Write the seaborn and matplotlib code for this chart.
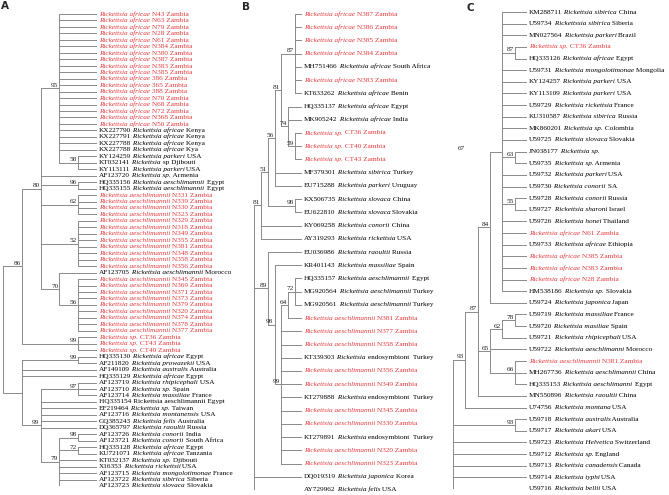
import pandas as pd
import seaborn as sns
import matplotlib.pyplot as plt

sns.set_theme(style="white")
plt.rcParams['font.family'] = ['Liberation Serif', 'DejaVu Serif']

RED = "#e5383b"
LINE = "#8a8a8a"
FS = 5.2
W, H = 669, 495


def zambia(species, ids):
    return [f"*Rickettsia {species}* {i} Zambia" for i in ids]


# ---------------- panel A ----------------
labels_a = (
    zambia("africae", ["N43", "N63", "N79", "N28", "N61", "N384", "N380", "N387", "N383",
                       "N385", "386", "365", "388", "N70", "N68", "N72", "N368", "N50"])
    + ["KX227790 *Rickettsia africae* Kenya",
       "KX227791 *Rickettsia africae* Kenya",
       "KX227788 *Rickettsia africae* Kenya",
       "KX227788 *Rickettsia africae* Kya",
       "KY124259 *Rickettsia parkeri* USA",
       "KT032141 *Rickettsia* sp Djibouti",
       "KY113111 *Rickettsia parkeri* USA",
       "AF123720 *Rickettsia sp.* Armenia",
       "HQ335156 *Rickettsia aeschlimannii* Egypt",
       "HQ335155 *Rickettsia aeschlimannii* Egypt"]
    + zambia("aeschlimannii", ["N331", "N339", "N330", "N323", "N329", "N318", "N349",
                               "N355", "N381", "N348", "N358", "N356"])
    + ["AF123705 *Rickettsia aeschlimannii* Morocco"]
    + zambia("aeschlimannii", ["N345", "N369", "N371", "N373", "N379", "N320", "N374",
                               "N378", "N377"])
    + zambia("sp.", ["CT36", "CT43", "CT40"])
    + ["HQ335130 *Rickettsia africae* Egypt",
       "AF211820 *Rickettsia prowazekii* USA",
       "AF149109 *Rickettsia australis* Australia",
       "HQ335129 *Rickettsia africae* Egypt",
       "AF123719 *Rickettsia rhipicephali* USA",
       "AF123710 *Rickettsia sp.* Spain",
       "AF123714 *Rickettsia massiliae* France",
       "HQ335154 Rickettsia aeschlimannii Egypt",
       "EF219464 *Rickettsia sp.* Taiwan",
       "AF123716 *Rickettsia montanensis* USA",
       "GQ385243 *Rickettsia felis* Australia",
       "DQ365797 *Rickettsia raoultii* Russia",
       "AF123726 *Rickettsia conorii* India",
       "AF123721 *Rickettsia conorii* South Africa",
       "HQ335128 *Rickettsia africae* Egypt",
       "KU721071 *Rickettsia africae* Tanzania",
       "KT032137 *Rickettsia sp.* Djibouti",
       "X16353 *Rickettsia rickettsii* USA",
       "AF123715 *Rickettsia mongolotimonae* France",
       "AF123722 *Rickettsia sibirica* Siberia",
       "AF123723 *Rickettsia slovaca* Slovakia"]
)

# node = (depth, bootstrap, children); leaves are row indices
tree_a = (0, None, [
    (1, 86, [
        (2, 80, [
            (3, 95, list(range(0, 22)) + [(4, 58, [22, 23, 24])]),
            25,
            (4, 96, [26, 27]),
            (4, 62, [28, 29, 30, 31]),
            (4, 52, list(range(32, 40))),
            (3, 70, [40, (4, 56, list(range(41, 50)))]),
        ]),
        (4, 99, [50, 51, 52]),
    ]),
    (1, None, [
        (4, 99, [53, 54]),
        55, 56,
        (2, 99, [
            (4, 97, [57, 58, 59]),
            60, 61, 62, 63, 64,
            (3, 79, [(4, 98, [65, 66]), (4, 72, [67, 68]), 69, 70, 71, 72, 73]),
        ]),
    ]),
])

# ---------------- panel B ----------------
labels_b = (
    zambia("africae", ["N387", "N386", "N385", "N384"])
    + ["MH751466 *Rickettsia africae* South Africa"]
    + zambia("africae", ["N383"])
    + ["KT633262 *Rickettsia africae* Benin",
       "HQ335137 *Rickettsia africae* Egypt",
       "MK905242 *Rickettsia africae* India"]
    + zambia("sp.", ["CT36", "CT40", "CT43"])
    + ["MF379301 *Rickettsia sibirica*  Turkey",
       "EU715288 *Rickettsia parkeri* Uruguay",
       "KX506735 *Rickettsia slovaca* China",
       "EU622810 *Rickettsia slovaca* Slovakia",
       "KY069258 *Rickettsia conorii* China",
       "AY319293 *Rickettsia rickettsia* USA",
       "EU036986 *Rickettsia raoultii* Russia",
       "KR401143 *Rickettsia massiliae* Spain",
       "HQ335157 *Rickettsia aeschlimannii* Egypt",
       "MG920564 *Rickettsia aeschlimannii* Turkey",
       "MG920561 *Rickettsia aeschlimannii* Turkey"]
    + zambia("aeschlimannii", ["N381", "N377", "N358"])
    + ["KT339303 *Rickettsia* endosymbiont  Turkey"]
    + zambia("aeschlimannii", ["N356", "N349"])
    + ["KT279888 *Rickettsia* endosymbiont  Turkey"]
    + zambia("aeschlimannii", ["N345", "N330"])
    + ["KT279891 *Rickettsia* endosymbiont  Turkey"]
    + zambia("aeschlimannii", ["N320", "N323"])
    + ["DQ019319 *Rickettsia japonica* Korea",
       "AY729962 *Rickettsia felis* USA"]
)

tree_b = (0, None, [
    (1, 81, [
        (2, 51, [
            (3, 56, [
                (4, 81, [
                    (6, 87, [0, 1, 2, 3, 4, 5, 6]),
                    (5, 74, [7, 8, (6, 59, [9, 10, 11])]),
                ]),
                12, 13,
            ]),
            (6, 98, [14, 15]),
        ]),
        16, 17,
    ]),
    (2, 89, [
        18,
        (3, 98, [
            19,
            (4, 99, [(5, 64, [(6, 72, [20, 21, 22]), 23])] + list(range(24, 35))),
        ]),
    ]),
    35, 36,
])

# ---------------- panel C ----------------
labels_c = (
    ["KM288711 *Rickettsia sibirica* China",
     "U59734 *Rickettssia sibirica* Siberia",
     "MN027564 *Rickettsia parkeri* Brazil"]
    + zambia("sp.", ["CT36"])
    + ["HQ335126 *Rickettsia africae* Egypt",
       "U59731 *Rickettsia mongolotimonae* Mongolia",
       "KY124257 *Rickettsia parkeri* USA",
       "KY113109 *Rickettsia parkeri* USA",
       "U59729 *Rickettsia rickettsia* France",
       "KU310587 *Rickettsia sibirica* Russia",
       "MK860201 *Rickettsia sp.* Colombia",
       "U59725 *Rickettsia slovaca* Slovakia",
       "JN038177 *Rickettsia sp.*",
       "U59735 *Rickettsia sp.* Armenia",
       "U59732 *Rickettsia parkeri* USA",
       "U59730 *Rickettsia conorii* SA",
       "U59728 *Rickettsia conorii* Russia",
       "U59727 *Rickettsia sharoni* Israel",
       "U59726 *Rickettsia honei* Thailand"]
    + zambia("africae", ["N61"])
    + ["U59733 *Rickettsia africae* Ethiopia"]
    + zambia("africae", ["N385", "N383", "N28"])
    + ["HM538186 *Rickettsia sp.* Slovakia",
       "U59724 *Rickettsia japonica* Japan",
       "U59719 *Rickettsia massiliae* France",
       "U59720 *Rickettsia masiliae* Spain",
       "U59721 *Rickettsia rhipicephali* USA",
       "U59722 *Rickettsia aeschlimanni* Morocco"]
    + zambia("aeschlimannii", ["N381"])
    + ["MH267736 *Rickettsia aeschlimannii* China",
       "HQ335153 *Rickettsia aeschlimanni* Egypt",
       "MN550896 *Rickettsia raoultii* China",
       "U74756 *Rickettsia montana* USA",
       "U59718 *Rickettsia australis* Australia",
       "U59717 *Rickettsia akari* USA",
       "U59723 *Rickettsia Helvetica* Switzerland",
       "U59712 *Rickettsia sp.* England",
       "U59713 *Rickettsia canadensis* Canada",
       "U59714 *Rickettsia typhi* USA",
       "U59716 *Rickettsia bellii* USA"]
)

tree_c = (0, None, [
    (1, 93, [
        (2, 87, [
            (3, 84, [
                (4, 67, [0, 1, 2, (5, 87, [3, 4]), 5, 6, 7, 8, 9, 10, 11,
                         (5, 63, [12, 13]), 14, 15, (5, 55, [16, 17]),
                         18, 19, 20, 21, 22, 23, 24]),
                25,
            ]),
            (3, 65, [(4, 62, [(5, 78, [26, 27]), 28]), 29, (5, 66, [30, 31, 32])]),
            33,
        ]),
        34,
    ]),
    (5, 93, [35, 36]),
    37, 38, 39, 40, 41,
])

# bootstrap labels that sit away from their node in the original (offset in points)
label_shift = {("C", 67): -26}


def walk(node, tip, segs, sups):
    if isinstance(node, int):
        return tip, node
    depth, sup, kids = node
    pts = [walk(k, tip, segs, sups) for k in kids]
    y = (pts[0][1] + pts[-1][1]) / 2
    segs.append([(depth, pts[0][1]), (depth, pts[-1][1])])
    for cx, cy in pts:
        segs.append([(depth, cy), (cx, cy)])
    if sup is not None:
        sups.append((depth, y, sup))
    return depth, y


def draw_panel(fig, name, px, tree, labels, tip):
    root, tipx, top, bottom = px
    ax = fig.add_axes([root / W, 1 - bottom / H, (tipx - root) / W, (bottom - top) / H])
    segs, sups = [], []
    walk(tree, tip, segs, sups)
    rows = [(k, x, y) for k, s in enumerate(segs) for x, y in s]
    df = pd.DataFrame(rows, columns=["seg", "x", "y"])
    sns.lineplot(data=df, x="x", y="y", units="seg", estimator=None, sort=False,
                 color=LINE, linewidth=0.7, ax=ax, legend=False)
    ax.set_xlim(0, tip)
    ax.set_ylim(len(labels) - 1, 0)
    ax.axis("off")

    for i, lab in enumerate(labels):
        color = RED if "Zambia" in lab else "black"
        txt = None
        for j, part in enumerate(lab.split("*")):
            part = part.strip()
            if not part:
                continue
            style = "italic" if j % 2 else "normal"
            if txt is None:
                txt = ax.annotate(part, xy=(tip, i), xytext=(1.6, 0), textcoords="offset points",
                                  va="center", ha="left", fontsize=FS, color=color,
                                  fontstyle=style, annotation_clip=False)
            else:
                txt = ax.annotate(" " + part, xy=(1, 0), xycoords=txt, va="bottom", ha="left",
                                  fontsize=FS, color=color, fontstyle=style)
    for x, y, s in sups:
        dx = label_shift.get((name, s), 0)
        ax.annotate(str(s), xy=(x, y), xytext=(-0.8 + dx, 0.2), textcoords="offset points",
                    ha="right", va="bottom", fontsize=FS, color="#222222",
                    annotation_clip=False)
    return ax


fig = plt.figure(figsize=(W / 100, H / 100), dpi=100)
fig.patch.set_facecolor("white")

draw_panel(fig, "A", (3, 97, 14, 486), tree_a, labels_a, 5)
draw_panel(fig, "B", (254, 302, 14, 490), tree_b, labels_b, 7)
draw_panel(fig, "C", (453, 527, 12, 489), tree_c, labels_c, 6)

for letter, x, y in [("A", 5, 6), ("B", 246, 7), ("C", 470, 8)]:
    fig.text(x / W, 1 - y / H, letter, fontsize=7.5, fontweight="bold",
             family="DejaVu Sans", ha="center", va="center")

fig.savefig("out.png", dpi=100)
